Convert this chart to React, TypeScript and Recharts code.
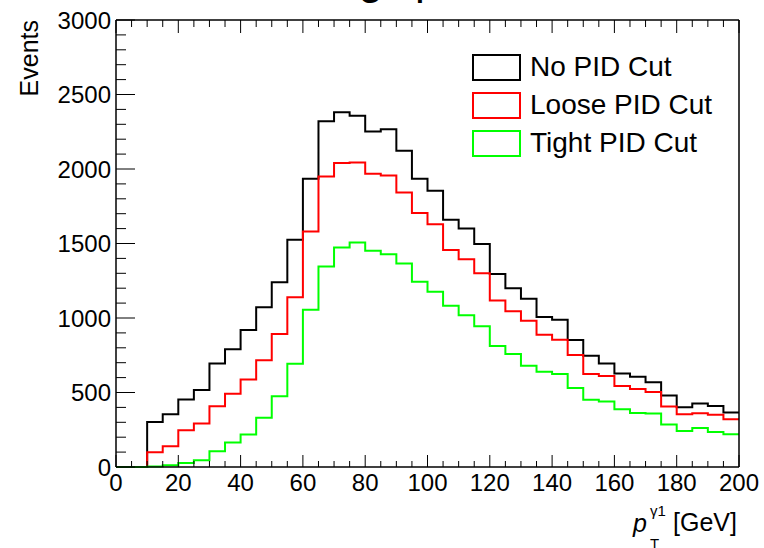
import React from "react";
import { LineChart, Line, XAxis, YAxis, Legend, Label } from "recharts";

// bin lower edges (GeV), bin width 5
const binEdges = [
  0, 5, 10, 15, 20, 25, 30, 35, 40, 45, 50, 55, 60, 65, 70, 75, 80, 85, 90, 95,
  100, 105, 110, 115, 120, 125, 130, 135, 140, 145, 150, 155, 160, 165, 170, 175, 180, 185, 190, 195,
];
const upperEdge = 200;

const noPID = [
  0, 0, 302, 354, 453, 516, 695, 791, 919, 1072, 1240, 1525, 1935, 2320, 2381, 2358, 2251, 2266, 2123, 1935,
  1854, 1659, 1601, 1496, 1296, 1200, 1130, 1007, 989, 852, 747, 695, 628, 605, 568, 480, 401, 426, 410, 366,
];
const loosePID = [
  0, 0, 99, 139, 247, 292, 408, 491, 588, 717, 892, 1139, 1580, 1950, 2040, 2044, 1968, 1957, 1843, 1704,
  1630, 1457, 1395, 1300, 1117, 1045, 982, 888, 854, 751, 625, 610, 543, 523, 504, 406, 354, 361, 350, 321,
];
const tightPID = [
  0, 0, 4, 11, 27, 45, 106, 164, 218, 330, 475, 693, 1056, 1345, 1473, 1506, 1451, 1428, 1365, 1244,
  1177, 1083, 1018, 944, 812, 758, 679, 639, 625, 531, 451, 440, 388, 363, 359, 285, 242, 262, 235, 220,
];

const seriesNames = ["No PID Cut", "Loose PID Cut", "Tight PID Cut"];
const seriesColors = ["#000000", "#ff0000", "#00ff00"];

const xTicks = [
  0, 5, 10, 15, 20, 25, 30, 35, 40, 45, 50, 55, 60, 65, 70, 75, 80, 85, 90, 95, 100,
  105, 110, 115, 120, 125, 130, 135, 140, 145, 150, 155, 160, 165, 170, 175, 180, 185, 190, 195, 200,
];
const xMajor = [0, 20, 40, 60, 80, 100, 120, 140, 160, 180, 200];
const yTicks = Array.from({ length: 31 }, (_, i) => i * 100);
const yMajor = [0, 500, 1000, 1500, 2000, 2500, 3000];

// step-histogram table: each bin's value at its lower edge, plus closing point at upper edge
const rows = binEdges
  .map((x, i) => ({ x, a: noPID[i], b: loosePID[i], c: tightPID[i] }))
  .concat([
    {
      x: upperEdge,
      a: noPID[noPID.length - 1],
      b: loosePID[loosePID.length - 1],
      c: tightPID[tightPID.length - 1],
    },
  ]);

const FONT = "'Liberation Sans', Arial, Helvetica, sans-serif";

const BottomTick = (props: any) => {
  const { x, y, payload } = props;
  const major = xMajor.includes(payload.value);
  return (
    <g>
      <line x1={x} y1={y} x2={x} y2={y - (major ? 12 : 6)} stroke="#000" strokeWidth={1} />
      {major && (
        <text x={x} y={y + 24} textAnchor="middle" fontSize={24} fontFamily={FONT} fill="#000">
          {payload.value}
        </text>
      )}
    </g>
  );
};

const TopTick = (props: any) => {
  const { x, y, payload } = props;
  const major = xMajor.includes(payload.value);
  return <line x1={x} y1={y} x2={x} y2={y + (major ? 13 : 7)} stroke="#000" strokeWidth={1} />;
};

const LeftTick = (props: any) => {
  const { x, y, payload } = props;
  const major = yMajor.includes(payload.value);
  return (
    <g>
      <line x1={x} y1={y} x2={x + (major ? 19 : 10)} y2={y} stroke="#000" strokeWidth={1} />
      {major && (
        <text x={x - 5} y={y + 8.5} textAnchor="end" fontSize={24} fontFamily={FONT} fill="#000">
          {payload.value}
        </text>
      )}
    </g>
  );
};

const RightTick = (props: any) => {
  const { x, y, payload } = props;
  const major = yMajor.includes(payload.value);
  return <line x1={x} y1={y} x2={x - (major ? 19 : 10)} y2={y} stroke="#000" strokeWidth={1} />;
};

const LegendBox = (props: any) => {
  const payload = [...(props.payload || [])].sort(
    (p: any, q: any) => seriesNames.indexOf(p.value) - seriesNames.indexOf(q.value)
  );
  return (
    <div style={{ fontFamily: FONT, fontSize: 28, color: "#000" }}>
      {payload.map((p: any, i: number) => (
        <div key={i} style={{ display: "flex", alignItems: "center", height: 38 }}>
          <div
            style={{
              width: 45,
              height: 23,
              border: `2px solid ${p.color}`,
              marginRight: 9,
              flex: "none",
            }}
          />
          <span style={{ whiteSpace: "nowrap", lineHeight: "28px" }}>{p.value}</span>
        </div>
      ))}
    </div>
  );
};

export default function App() {
  return (
    <div style={{ position: "absolute", left: 0, top: 0, width: 764, height: 548, background: "#fff" }}>
      <LineChart
        width={764}
        height={548}
        data={rows}
        margin={{ top: 10, right: 15, bottom: 41, left: 56 }}
      >
        <XAxis
          xAxisId="b"
          dataKey="x"
          type="number"
          domain={[0, 200]}
          ticks={xTicks}
          interval={0}
          tickSize={0}
          tickMargin={0}
          tickLine={false}
          tick={<BottomTick />}
          height={40}
          axisLine={{ stroke: "#000", strokeWidth: 1.5 }}
        >
          <Label
            content={() => (
              <g fontFamily={FONT}>
                <text x={633} y={532} fontSize={25} fontStyle="italic" fill="#000">p</text>
                <text x={650} y={516} fontSize={15} fill="#000">γ1</text>
                <text x={650} y={549} fontSize={15} fill="#000">T</text>
                <text x={737} y={531} fontSize={25} textAnchor="end" fill="#000">[GeV]</text>
              </g>
            )}
          />
        </XAxis>
        <XAxis
          xAxisId="t"
          orientation="top"
          dataKey="x"
          type="number"
          domain={[0, 200]}
          ticks={xTicks}
          interval={0}
          tickSize={0}
          tickMargin={0}
          tickLine={false}
          tick={<TopTick />}
          height={10}
          axisLine={{ stroke: "#000", strokeWidth: 1.5 }}
        >
          <Label
            content={() => (
              <g fontFamily={FONT} fontSize={44}>
                <text x={383} y={-6} textAnchor="end" fill="#000">Leading</text>
                <text x={415} y={-6} fill="#000">p</text>
              </g>
            )}
          />
        </XAxis>
        <YAxis
          yAxisId="l"
          type="number"
          domain={[0, 3000]}
          ticks={yTicks}
          interval={0}
          tickSize={0}
          tickMargin={0}
          tickLine={false}
          tick={<LeftTick />}
          width={60}
          axisLine={{ stroke: "#000", strokeWidth: 1.5 }}
        >
          <Label
            content={() => (
              <text
                transform="translate(38,20) rotate(-90)"
                textAnchor="end"
                fontSize={25}
                fontFamily={FONT}
                fill="#000"
              >
                Events
              </text>
            )}
          />
        </YAxis>
        <YAxis
          yAxisId="r"
          orientation="right"
          type="number"
          domain={[0, 3000]}
          ticks={yTicks}
          interval={0}
          tickSize={0}
          tickMargin={0}
          tickLine={false}
          tick={<RightTick />}
          width={10}
          axisLine={{ stroke: "#000", strokeWidth: 1.5 }}
        />
        <Legend
          layout="vertical"
          align="center"
          verticalAlign="middle"
          content={<LegendBox />}
          wrapperStyle={{ position: "absolute", left: 472, top: 48, width: 285, height: 120 }}
        />
        <Line
          xAxisId="b"
          yAxisId="l"
          dataKey="a"
          name={seriesNames[0]}
          type="stepAfter"
          stroke={seriesColors[0]}
          strokeWidth={2}
          dot={false}
          isAnimationActive={false}
        />
        <Line
          xAxisId="b"
          yAxisId="l"
          dataKey="b"
          name={seriesNames[1]}
          type="stepAfter"
          stroke={seriesColors[1]}
          strokeWidth={2}
          dot={false}
          isAnimationActive={false}
        />
        <Line
          xAxisId="b"
          yAxisId="l"
          dataKey="c"
          name={seriesNames[2]}
          type="stepAfter"
          stroke={seriesColors[2]}
          strokeWidth={2}
          dot={false}
          isAnimationActive={false}
        />
      </LineChart>
    </div>
  );
}
